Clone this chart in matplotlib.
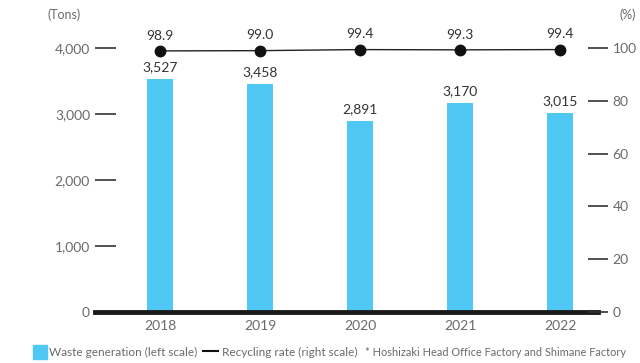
import matplotlib
matplotlib.use("Agg")
import matplotlib.pyplot as plt

plt.rcParams['font.family'] = ['Lato', 'DejaVu Sans']

years = ['2018', '2019', '2020', '2021', '2022']
waste = [3527, 3458, 2891, 3170, 3015]
recycling = [98.9, 99.0, 99.4, 99.3, 99.4]

bar_color = '#4FC9F3'
tick_gray = '#6a6a6a'
label_dark = '#333333'

fig = plt.figure(figsize=(6.4, 3.63), dpi=100)
ax = fig.add_axes([95 / 640, 1 - 312 / 363, (598 - 95) / 640, (312 - 48) / 363])
ax2 = ax.twinx()

x = list(range(len(years)))
ax.bar(x, waste, width=0.26, color=bar_color, zorder=2)
for xi, v in zip(x, waste):
    ax.text(xi, v + 90, f'{v:,}', ha='center', va='bottom', fontsize=10, color=label_dark)

ax.set_xlim(-0.65, 4.38)
ax.set_ylim(0, 4000)
ax.set_yticks([0, 1000, 2000, 3000, 4000])
ax.set_yticklabels([f'{t:,}' for t in [0, 1000, 2000, 3000, 4000]])
ax.set_xticks(x)
ax.set_xticklabels(years)
ax.tick_params(axis='y', direction='in', length=15, width=1.2, color='#333333',
               pad=3.6, labelsize=10, labelcolor=tick_gray)
ax.tick_params(axis='x', length=0, pad=6, labelsize=10, labelcolor=tick_gray)
for s in ax.spines.values():
    s.set_visible(False)
ax.axhline(0, color='#1a1a1a', lw=3.5, zorder=3, clip_on=False)

ax2.plot(x, recycling, color='#222222', lw=1.0, marker='o', markersize=7.5,
         markerfacecolor='#111111', markeredgecolor='#111111', clip_on=False, zorder=4)
for xi, v in zip(x, recycling):
    ax2.text(xi, v + 3.5, f'{v:.1f}', ha='center', va='bottom', fontsize=10, color=label_dark)
ax2.set_ylim(0, 100)
ax2.set_yticks([0, 20, 40, 60, 80, 100])
ax2.tick_params(axis='y', direction='inout', length=15, width=1.2, color='#333333',
                pad=3, labelsize=10, labelcolor=tick_gray)
for s in ax2.spines.values():
    s.set_visible(False)

fig.text(47 / 640, 1 - 15 / 363, '(Tons)', ha='left', va='center', fontsize=9, color=tick_gray)
fig.text(628 / 640, 1 - 15 / 363, '(%)', ha='center', va='center', fontsize=9, color=tick_gray)

# legend row
fig.patches.append(plt.Rectangle((33 / 640, 1 - 359 / 363), 14 / 640, 14 / 363,
                                 transform=fig.transFigure, color=bar_color))
fig.text(49 / 640, 1 - 352 / 363, 'Waste generation (left scale)', ha='left', va='center',
         fontsize=8.5, color=tick_gray)
fig.lines.append(plt.Line2D([203 / 640, 218 / 640], [1 - 351 / 363] * 2,
                            transform=fig.transFigure, color='#111111', lw=1.5))
fig.text(222 / 640, 1 - 352 / 363, 'Recycling rate (right scale)', ha='left', va='center',
         fontsize=8.5, color=tick_gray)
fig.text(365 / 640, 1 - 352 / 363, '* Hoshizaki Head Office Factory and Shimane Factory',
         ha='left', va='center', fontsize=7.9, color=tick_gray)

fig.savefig('out.png', dpi=100)
